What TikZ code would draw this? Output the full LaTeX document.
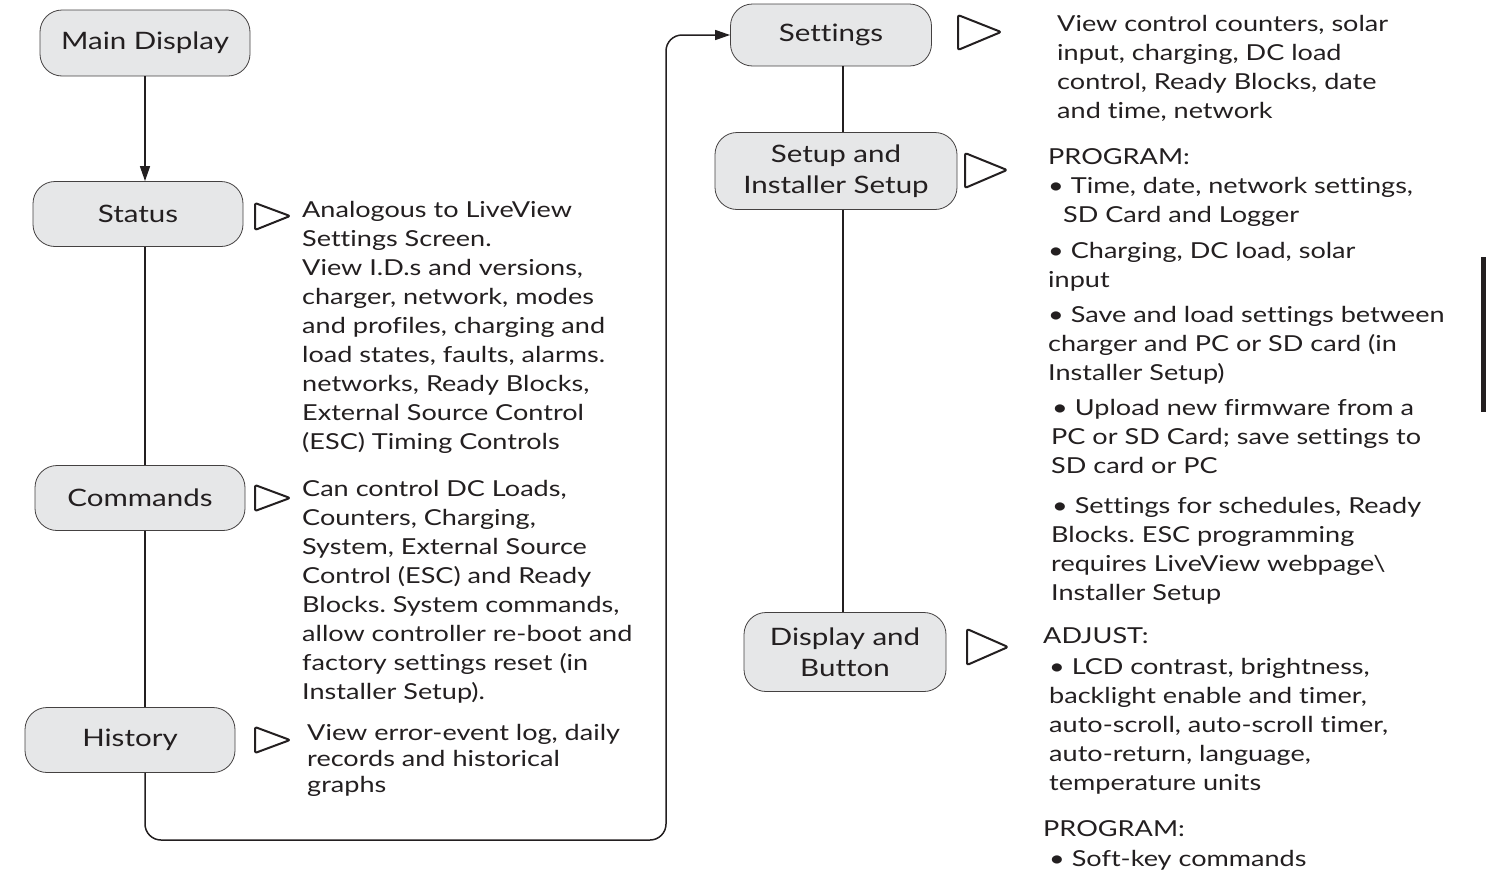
\documentclass[tikz,border=0pt]{standalone}
\usepackage{fontspec}
\setmainfont{Lato}[FakeStretch=1.23, Ligatures=CommonOff]
\frenchspacing
\usetikzlibrary{arrows.meta}
\definecolor{ink}{HTML}{231F20}
\definecolor{boxfill}{HTML}{E6E7E8}
\tikzset{
    menu/.style={draw=ink!85, fill=boxfill, rounded corners=22pt, line width=0.8pt,
        align=center, text=ink, inner sep=0pt, font=\fontsize{24}{31}\selectfont},
    note/.style={anchor=north west, align=left, inner sep=0pt, text=ink,
        font=\fontsize{22}{29}\selectfont},
    link/.style={draw=ink, line width=1.5pt},
    arr/.style={link, -{Triangle[length=15pt,width=10pt]}},
    cue/.style={draw=ink, line width=2pt, line join=round, rounded corners=2pt}
}

\begin{document}
\begin{tikzpicture}[x=1pt,y=-1pt]
    \useasboundingbox (0,0) rectangle (1486,873);
    % menu boxes
    \node[menu, minimum width=210pt, minimum height=66pt] (main) at (145,43) {Main Display};
    \node[menu, minimum width=210pt, minimum height=65pt] (status) at (138,214) {Status};
    \node[menu, minimum width=210pt, minimum height=65pt] (commands) at (140,498) {Commands};
    \node[menu, minimum width=210pt, minimum height=65pt] (history) at (130,740) {History};
    \node[menu, minimum width=201pt, minimum height=62pt] (settings) at (831,35) {Settings};
    \node[menu, minimum width=242pt, minimum height=77pt] (setup) at (836,171) {Setup and\\Installer Setup};
    \node[menu, minimum width=202pt, minimum height=79pt] (display) at (845,652) {Display and\\Button};
    % spines
    \coordinate (lspine) at (145,0);
    \coordinate (rspine) at (843,0);
    \coordinate (loopturn) at (666,840);
    \draw[arr] (main.south) -- (main.south |- status.north);
    \draw[link] (status.south -| lspine) -- (commands.north -| lspine);
    \draw[link] (commands.south -| lspine) -- (history.north -| lspine);
    \draw[arr, rounded corners=16pt] (history.south -| lspine) |- (loopturn) |- (settings.west);
    \draw[link] (settings.south -| rspine) -- (setup.north -| rspine);
    \draw[link] (setup.south -| rspine) -- (display.north -| rspine);
    % pointers
    \draw[cue] (255,203) -- (290,216) -- (255,230) -- cycle;
    \draw[cue] (255,485) -- (290,498) -- (255,511) -- cycle;
    \draw[cue] (255,727) -- (290,740) -- (255,753) -- cycle;
    \draw[cue] (958,15) -- (1001,32) -- (958,50) -- cycle;
    \draw[cue] (965,153) -- (1007,170) -- (965,188) -- cycle;
    \draw[cue] (967,629) -- (1008,647) -- (967,665) -- cycle;
    % descriptions
    \node[note] (statusnote) at (302,201) {Analogous to LiveView\\Settings Screen.\\View I.D.s and versions,\\charger, network, modes\\and profiles, charging and\\load states, faults, alarms.\\networks, Ready Blocks,\\External Source Control\\(ESC) Timing Controls};
    \node[note] (commandsnote) at (302,480) {Can control DC Loads,\\Counters, Charging,\\System, External Source\\Control (ESC) and Ready\\Blocks. System commands,\\allow controller re-boot and\\factory settings reset (in\\Installer Setup).};
    \node[note, font=\fontsize{22}{26}\selectfont] (historynote) at (307,724) {View error-event log, daily\\records and historical\\graphs};
    \node[note] (settingsnote) at (1057,15) {View control counters, solar\\input, charging, DC load\\control, Ready Blocks, date\\and time, network};
    \node[note] (setupnote) at (1048,148) {PROGRAM:\\• Time, date, network settings,\\\hspace*{15pt}SD Card and Logger\\[7pt]• Charging, DC load, solar\\input\\[6pt]• Save and load settings between\\charger and PC or SD card (in\\Installer Setup)\\[6pt]\hspace*{4pt}• Upload new firmware from a\\\hspace*{3pt}PC or SD Card; save settings to\\\hspace*{3pt}SD card or PC\\[11pt]\hspace*{4pt}• Settings for schedules, Ready\\\hspace*{3pt}Blocks. ESC programming\\\hspace*{3pt}requires LiveView webpage\textbackslash\\\hspace*{3pt}Installer Setup};
    \node[note] (displaynote) at (1043,627) {ADJUST:\\[2pt]\hspace*{6pt}• LCD contrast, brightness,\\\hspace*{6pt}backlight enable and timer,\\\hspace*{6pt}auto-scroll, auto-scroll timer,\\\hspace*{6pt}auto-return, language,\\\hspace*{6pt}temperature units\\[17pt]PROGRAM:\\[1pt]\hspace*{6pt}• Soft-key commands};
    % page tab
    \fill[ink] (1481,257) rectangle (1486,412);
\end{tikzpicture}
\end{document}
